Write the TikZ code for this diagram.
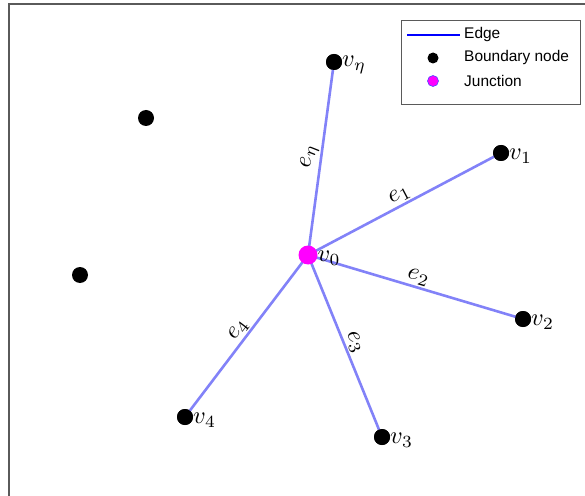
\documentclass[tikz,border=0pt]{standalone}
\usepackage{fontspec}
\setmainfont{Liberation Sans}
\usepackage{graphicx}
\usepackage{xcolor}
\usepackage{tikz}
\usetikzlibrary{positioning}
\definecolor{edgeblue}{HTML}{8282F8}
\definecolor{junctionpink}{HTML}{FF00FF}
\definecolor{framegray}{HTML}{5A5A5A}
\newcommand{\glab}[1]{\scalebox{2.45}{$#1$}}

\begin{document}
\begin{tikzpicture}[
  x=1bp, y=-1bp,
  bnode/.style={circle, fill=black, inner sep=0pt, minimum size=16bp},
  jnode/.style={circle, fill=junctionpink, inner sep=0pt, minimum size=19bp},
  edgeline/.style={draw=edgeblue, line width=2.6bp},
  vlab/.style={label distance=-3.5bp, yshift=-3bp, font=\normalsize},
  elab/.style={midway, above, sloped, inner sep=1.5bp, font=\normalsize},
  legtext/.style={anchor=west, inner sep=0pt, font=\fontsize{15.5}{18}\selectfont}
]
\useasboundingbox (0,0) rectangle (585,496);
% axes frame
\draw[framegray, line width=1.3bp] (9,496) -- (9,4) -- (585,4);
% boundary nodes
\node[bnode, label={[vlab]east:\glab{v_\eta}}] (veta) at (334,62) {};
\node[bnode, label={[vlab]east:\glab{v_1}}] (v1) at (501,153) {};
\node[bnode, label={[vlab]east:\glab{v_2}}] (v2) at (523,319) {};
\node[bnode, label={[vlab]east:\glab{v_3}}] (v3) at (382,437) {};
\node[bnode, label={[vlab]east:\glab{v_4}}] (v4) at (185,417) {};
\node[bnode] (u1) at (146,118) {};
\node[bnode] (u2) at (80,275) {};
% edges
\coordinate (v0c) at (308,255);
\draw[edgeline] (v0c) -- (veta.center) node[elab] {\glab{e_\eta}};
\draw[edgeline] (v0c) -- (v1.center) node[elab] {\glab{e_1}};
\draw[edgeline] (v0c) -- (v2.center) node[elab] {\glab{e_2}};
\draw[edgeline] (v0c) -- (v3.center) node[elab] {\glab{e_3}};
\draw[edgeline] (v4.center) -- (v0c) node[elab] {\glab{e_4}};
\node[bnode] at (v1) {};
\node[bnode] at (v2) {};
\node[bnode] at (v3) {};
\node[bnode] at (v4) {};
\node[bnode] at (veta) {};
% junction
\node[jnode, label={[vlab]east:\glab{v_0}}] (v0) at (v0c) {};
% legend
\node[draw=framegray, fill=white, line width=1bp, minimum width=179bp, minimum height=84bp, inner sep=0pt] (legend) at (490.5,63) {};
\coordinate (la) at (407,35);
\coordinate (lb) at (460,35);
\draw[blue, line width=2.6bp] (la) -- (lb);
\node[legtext] (ledge) at (464,35) {Edge};
\node[circle, fill=black, inner sep=0pt, minimum size=11bp] (lbdot) at (433,58) {};
\node[legtext] (lbnode) at (464,58) {Boundary node};
\node[circle, fill=junctionpink, draw=blue!70, line width=0.6bp, inner sep=0pt, minimum size=11bp] (ljdot) at (433,81) {};
\node[legtext] (ljunc) at (464,81) {Junction};
\end{tikzpicture}
\end{document}
